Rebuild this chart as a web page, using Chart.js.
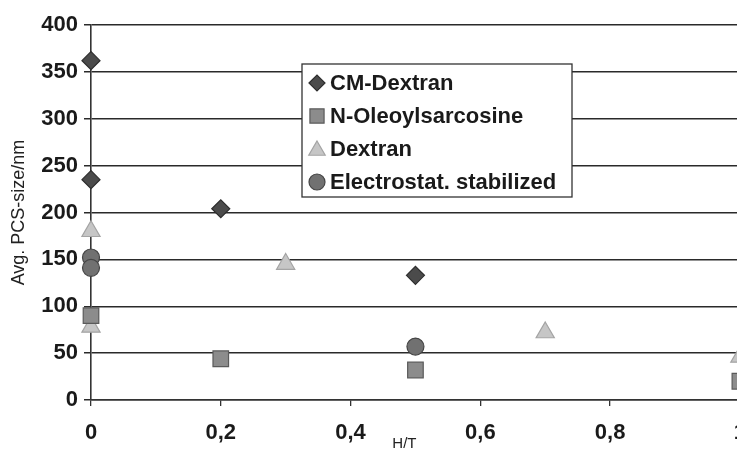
<!DOCTYPE html>
<html>
<head>
<meta charset="utf-8">
<script src="https://cdn.jsdelivr.net/npm/chart.js@4/dist/chart.umd.min.js"></script>
<style>
  html, body { margin: 0; padding: 0; background: #fff; overflow: hidden; width: 737px; height: 455px; }
  #wrap { position: relative; width: 760px; height: 455px; }
</style>
</head>
<body>
<div id="wrap"><canvas id="c" width="760" height="455"></canvas></div>
<script>
// ---- data ----
const seriesNames = ['CM-Dextran', 'N-Oleoylsarcosine', 'Dextran', 'Electrostat. stabilized'];
const cmDextranX = [0, 0, 0.2, 0.5];
const cmDextranY = [362, 235, 204, 133];
const oleoylX = [0, 0.2, 0.5, 1.0];
const oleoylY = [90, 44, 32, 20];
const dextranX = [0, 0, 0.3, 0.7, 1.0];
const dextranY = [180, 78, 145, 72, 46];
const electroX = [0, 0, 0.5];
const electroY = [152, 141, 57];
const xTickValues = [0, 0.2, 0.4, 0.6, 0.8, 1];
const xTickLabels = ['0', '0,2', '0,4', '0,6', '0,8', '1'];
const yTickValues = [0, 50, 100, 150, 200, 250, 300, 350, 400];
const xTitle = 'H/T';
const yTitle = 'Avg. PCS-size/nm';

function pts(xs, ys) { return xs.map((x, i) => ({ x: x, y: ys[i] })); }

const FONT = '"Liberation Sans", Arial, sans-serif';

const styles = [
  { pointStyle: 'rectRot', radius: 9, bg: '#4b4b4b', border: '#2e2e2e' },
  { pointStyle: 'rect', radius: 11, bg: '#8c8c8c', border: '#5a5a5a' },
  { pointStyle: 'triangle', radius: 10.5, bg: '#c6c6c6', border: '#a4a4a4' },
  { pointStyle: 'circle', radius: 8.5, bg: '#717171', border: '#454545' }
];
const dataSets = [pts(cmDextranX, cmDextranY), pts(oleoylX, oleoylY), pts(dextranX, dextranY), pts(electroX, electroY)];

const datasets = seriesNames.map((name, i) => ({
  label: name,
  data: dataSets[i],
  pointStyle: styles[i].pointStyle,
  pointRadius: styles[i].radius,
  pointHoverRadius: styles[i].radius,
  backgroundColor: styles[i].bg,
  borderColor: styles[i].border,
  pointBorderWidth: 1.2,
  showLine: false,
  clip: false
}));

function drawMarker(ctx, style, x, y, r) {
  ctx.save();
  ctx.fillStyle = style.bg;
  ctx.strokeStyle = style.border;
  ctx.lineWidth = 1.2;
  ctx.beginPath();
  if (style.pointStyle === 'rectRot') {
    ctx.moveTo(x - r, y); ctx.lineTo(x, y - r); ctx.lineTo(x + r, y); ctx.lineTo(x, y + r); ctx.closePath();
  } else if (style.pointStyle === 'rect') {
    const s = Math.SQRT1_2 * r; ctx.rect(x - s, y - s, 2 * s, 2 * s);
  } else if (style.pointStyle === 'triangle') {
    for (let k = 0; k < 3; k++) {
      const a = -Math.PI / 2 + k * 2 * Math.PI / 3;
      const px = x + Math.cos(a) * r, py = y + Math.sin(a) * r;
      if (k === 0) ctx.moveTo(px, py); else ctx.lineTo(px, py);
    }
    ctx.closePath();
  } else {
    ctx.arc(x, y, r, 0, Math.PI * 2);
  }
  ctx.fill(); ctx.stroke();
  ctx.restore();
}

const boxLegend = {
  id: 'boxLegend',
  afterDraw(chart) {
    const ctx = chart.ctx;
    const left = 302, top = 64, w = 270, h = 133;
    ctx.save();
    ctx.fillStyle = '#fff';
    ctx.fillRect(left, top, w, h);
    ctx.strokeStyle = '#333';
    ctx.lineWidth = 1.3;
    ctx.strokeRect(left, top, w, h);
    ctx.font = 'bold 22px ' + FONT;
    ctx.textBaseline = 'middle';
    ctx.fillStyle = '#1a1a1a';
    const ys = [83, 116, 149, 182];
    chart.data.datasets.forEach((ds, i) => {
      const st = styles[i];
      const mr = st.pointStyle === 'rect' ? 10 : (st.pointStyle === 'triangle' ? 9.5 : 8);
      drawMarker(ctx, st, 317, ys[i] + (st.pointStyle === 'triangle' ? 1.5 : 0), mr);
      ctx.fillStyle = '#1a1a1a';
      ctx.fillText(ds.label, 330, ys[i] + 1);
    });
    ctx.restore();
  }
};

const xTitlePlugin = {
  id: 'xTitlePlugin',
  afterDraw(chart) {
    const ctx = chart.ctx;
    const xs = chart.scales.x;
    ctx.save();
    ctx.font = '15px ' + FONT;
    ctx.fillStyle = '#222';
    ctx.textAlign = 'center';
    ctx.textBaseline = 'middle';
    ctx.fillText(xTitle, xs.getPixelForValue(0.483), chart.chartArea.bottom + 44);
    ctx.restore();
  }
};

new Chart(document.getElementById('c'), {
  type: 'scatter',
  data: { datasets: datasets },
  options: {
    responsive: false,
    animation: false,
    events: [],
    layout: { padding: { top: 25, right: 19, left: 0, bottom: 0 } },
    plugins: { legend: { display: false }, tooltip: { enabled: false } },
    scales: {
      x: {
        type: 'linear',
        min: 0, max: 1,
        afterBuildTicks(scale) { scale.ticks = xTickValues.map(v => ({ value: v })); },
        afterFit(scale) { scale.height = 55; },
        ticks: {
          callback: (v) => { const i = xTickValues.findIndex(t => Math.abs(t - v) < 1e-9); return i >= 0 ? xTickLabels[i] : ''; },
          font: { family: FONT, size: 22, weight: 'bold' },
          color: '#1a1a1a',
          padding: 14,
          maxRotation: 0,
          autoSkip: false
        },
        grid: { display: true, drawOnChartArea: false, drawTicks: true, tickLength: 6, color: '#333', lineWidth: 1.3 },
        border: { display: true, color: '#333', width: 1.6 }
      },
      y: {
        type: 'linear',
        min: 0, max: 400,
        afterBuildTicks(scale) { scale.ticks = yTickValues.map(v => ({ value: v })); },
        afterFit(scale) { scale.width = 91; },
        ticks: {
          font: { family: FONT, size: 22, weight: 'bold' },
          color: '#1a1a1a',
          padding: 6
        },
        title: {
          display: true,
          text: yTitle,
          font: { family: FONT, size: 18 },
          color: '#222',
          padding: { top: 8, bottom: 0 }
        },
        grid: { display: true, drawTicks: true, tickLength: 7, color: '#2a2a2a', lineWidth: 1.5 },
        border: { display: true, color: '#333', width: 1.6 }
      }
    }
  },
  plugins: [boxLegend, xTitlePlugin]
});
</script>
</body>
</html>
